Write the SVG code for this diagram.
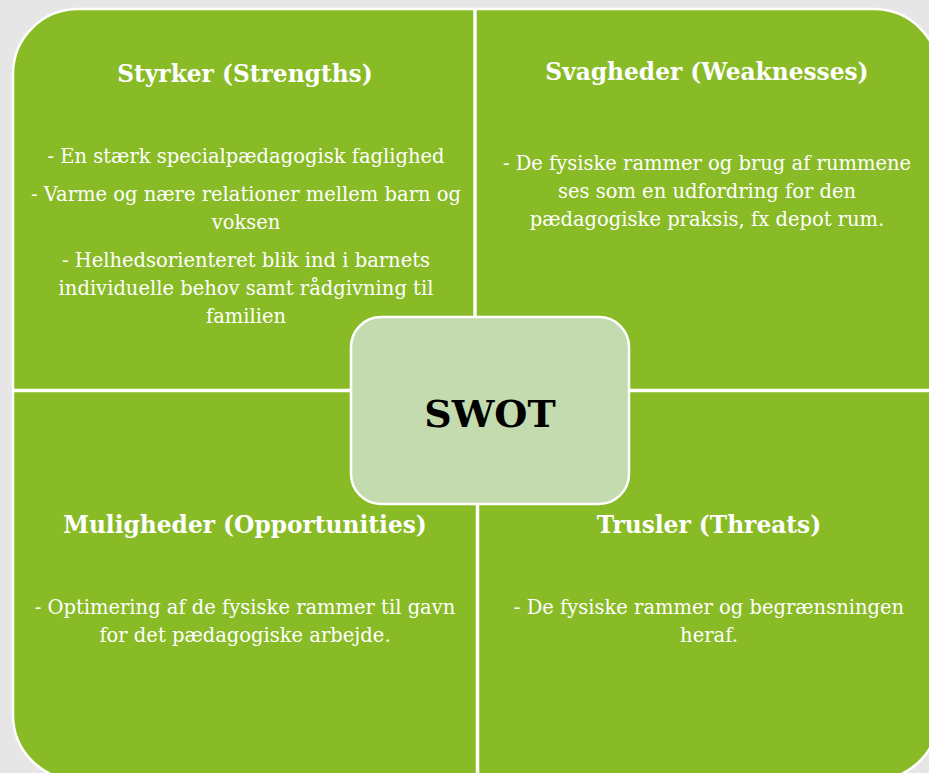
<svg xmlns="http://www.w3.org/2000/svg" width="929" height="773" viewBox="0 0 929 773">
<style>
.q{fill:#89bb27;stroke:#ffffff;stroke-width:2.5}
.h{font-family:"DejaVu Serif","Liberation Serif",serif;font-weight:bold;font-size:23.3px;fill:#ffffff;text-anchor:middle}
.b{font-family:"DejaVu Serif","Liberation Serif",serif;font-size:19.5px;fill:#ffffff;text-anchor:middle}
.c{fill:#c3dbae;stroke:#ffffff;stroke-width:2.5}
.s{font-family:"DejaVu Serif","Liberation Serif",serif;font-weight:bold;font-size:38px;fill:#000000;text-anchor:middle}
</style>
<rect x="0" y="0" width="929" height="773" fill="#e6e6e6"/>
<g id="strengths">
<path class="q" d="M13,390 V74 A65,65 0 0 1 78,9 H474.5 V390 Z"/>
<text class="h" x="245" y="82">Styrker (Strengths)</text>
<text class="b" x="246" y="163">- En stærk specialpædagogisk faglighed</text>
<text class="b" x="246" y="201">- Varme og nære relationer mellem barn og</text>
<text class="b" x="246" y="229">voksen</text>
<text class="b" x="246" y="267">- Helhedsorienteret blik ind i barnets</text>
<text class="b" x="246" y="295">individuelle behov samt rådgivning til</text>
<text class="b" x="246" y="323">familien</text>
</g>
<g id="weaknesses">
<path class="q" d="M475.5,9 H874 A65,65 0 0 1 939,74 V390 H475.5 Z"/>
<text class="h" x="707" y="80">Svagheder (Weaknesses)</text>
<text class="b" x="707" y="170">- De fysiske rammer og brug af rummene</text>
<text class="b" x="707" y="198">ses som en udfordring for den</text>
<text class="b" x="707" y="226">pædagogiske praksis, fx depot rum.</text>
</g>
<g id="opportunities">
<path class="q" d="M13,391 H477 V780 H78 A65,65 0 0 1 13,715 Z"/>
<text class="h" x="245" y="533">Muligheder (Opportunities)</text>
<text class="b" x="245" y="614">- Optimering af de fysiske rammer til gavn</text>
<text class="b" x="245" y="642">for det pædagogiske arbejde.</text>
</g>
<g id="threats">
<path class="q" d="M478,391 H939 V715 A65,65 0 0 1 874,780 H478 Z"/>
<text class="h" x="709" y="533">Trusler (Threats)</text>
<text class="b" x="709" y="614">- De fysiske rammer og begrænsningen</text>
<text class="b" x="709" y="642">heraf.</text>
</g>
<g id="swot">
<rect class="c" x="351" y="317" width="278" height="187" rx="30" ry="30"/>
<text class="s" x="490" y="427">SWOT</text>
</g>
<g id="connectors"/>
</svg>
